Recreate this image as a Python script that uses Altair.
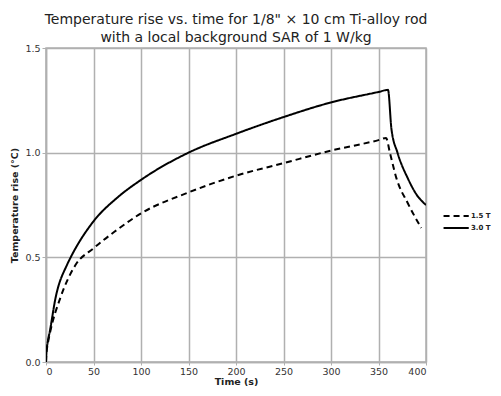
import altair as alt
import pandas as pd

# 3.0 T (solid)
t_30 = [0, 0.25, 2, 4, 10, 22, 26, 50, 75, 100, 150, 200, 250, 300, 350, 360, 363.6, 370, 381, 390, 400]
v_30 = [0, 0.035, 0.10, 0.146, 0.305, 0.463, 0.5, 0.672, 0.785, 0.87, 1.0, 1.09, 1.17, 1.24, 1.29, 1.30, 1.114, 1.0, 0.876, 0.80, 0.75]
# 1.5 T (dashed)
t_15 = [0, 0.25, 2, 4.5, 15, 31, 50, 72, 100, 150, 200, 250, 300, 350, 358, 362, 369, 381, 395]
v_15 = [0, 0.03, 0.09, 0.146, 0.305, 0.463, 0.543, 0.622, 0.71, 0.81, 0.89, 0.95, 1.01, 1.06, 1.07, 1.0, 0.876, 0.757, 0.64]

series = ["1.5 T", "3.0 T"]
x_ticks = [0, 50, 100, 150, 200, 250, 300, 350, 400]
y_ticks = [0.0, 0.5, 1.0, 1.5]

df = pd.concat([
    pd.DataFrame({"t": t_15, "v": v_15, "s": series[0]}),
    pd.DataFrame({"t": t_30, "v": v_30, "s": series[1]}),
])

FONT = "DejaVu Sans"
GRID = "#b0b0b0"

chart = alt.Chart(df).mark_line(color="black", strokeWidth=2, interpolate="monotone", clip=True).encode(
    x=alt.X("t:Q", scale=alt.Scale(domain=[0, 400], nice=False),
            axis=alt.Axis(values=x_ticks, title="Time (s)", format="d")),
    y=alt.Y("v:Q", scale=alt.Scale(domain=[0, 1.5], nice=False),
            axis=alt.Axis(values=y_ticks, title="Temperature rise (°C)", format=".1f")),
    strokeDash=alt.StrokeDash("s:N", scale=alt.Scale(domain=series, range=[[6, 4], [1, 0]]),
                              legend=alt.Legend(title=None, orient="none", legendX=406, legendY=160,
                                                symbolType="M-2.35,0H1.25", symbolSize=196,
                                                symbolStrokeWidth=2, symbolStrokeColor="black",
                                                symbolFillColor="transparent",
                                                labelFont=FONT, labelFontSize=7, labelFontWeight="bold",
                                                labelColor="#222", labelOffset=3, rowPadding=0,
                                                padding=0)),
    detail="s:N",
).properties(
    width=380, height=314,
    title=alt.Title(["Temperature rise vs. time for 1/8\" × 10 cm Ti-alloy rod",
                     "with a local background SAR of 1 W/kg"],
                    font=FONT, fontSize=14, fontWeight="normal", color="#222",
                    anchor="middle", offset=-2, lineHeight=18),
    autosize=alt.AutoSizeParams(type="none"),
    padding={"left": 38, "top": 40, "right": 67, "bottom": 26},
).configure_view(stroke=GRID, strokeWidth=1.5).configure_axis(
    gridColor=GRID, gridWidth=1.5, gridOpacity=1,
    domainColor=GRID, domainWidth=1.5, tickColor=GRID,
    labelFont=FONT, labelFontSize=9.5, labelColor="#333",
    titleFont=FONT, titleFontSize=9.5, titleFontWeight="bold", titleColor="#222",
).configure_axisY(titlePadding=5, labelPadding=2, tickSize=4).configure_axisX(
    titlePadding=1, labelPadding=1, tickSize=3)

chart.save("out.html", embed_options={"renderer": "svg", "actions": False})
